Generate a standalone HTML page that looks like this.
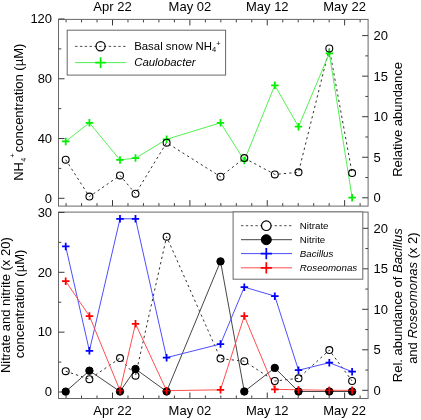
<!DOCTYPE html>
<html><head><meta charset="utf-8"><title>chart</title>
<style>
html,body{margin:0;padding:0;background:#fff;}
svg{display:block;will-change:transform;}
.it{font-style:italic;}
text{font-family:"Liberation Sans",sans-serif;font-size:13.0px;fill:#000;}
</style></head><body>
<svg width="421" height="420" viewBox="0 0 421 420">
<rect width="421" height="420" fill="#fff"/>
<line x1="66.07" y1="19.40" x2="66.07" y2="22.40" stroke="#404040" stroke-width="1" />
<line x1="66.07" y1="206.10" x2="66.07" y2="203.10" stroke="#404040" stroke-width="1" />
<line x1="81.55" y1="19.40" x2="81.55" y2="22.40" stroke="#404040" stroke-width="1" />
<line x1="81.55" y1="206.10" x2="81.55" y2="203.10" stroke="#404040" stroke-width="1" />
<line x1="97.02" y1="19.40" x2="97.02" y2="22.40" stroke="#404040" stroke-width="1" />
<line x1="97.02" y1="206.10" x2="97.02" y2="203.10" stroke="#404040" stroke-width="1" />
<line x1="112.50" y1="19.40" x2="112.50" y2="25.40" stroke="#3a3a3a" stroke-width="1" />
<line x1="112.50" y1="206.10" x2="112.50" y2="200.10" stroke="#3a3a3a" stroke-width="1" />
<line x1="127.98" y1="19.40" x2="127.98" y2="22.40" stroke="#404040" stroke-width="1" />
<line x1="127.98" y1="206.10" x2="127.98" y2="203.10" stroke="#404040" stroke-width="1" />
<line x1="143.45" y1="19.40" x2="143.45" y2="22.40" stroke="#404040" stroke-width="1" />
<line x1="143.45" y1="206.10" x2="143.45" y2="203.10" stroke="#404040" stroke-width="1" />
<line x1="158.93" y1="19.40" x2="158.93" y2="22.40" stroke="#404040" stroke-width="1" />
<line x1="158.93" y1="206.10" x2="158.93" y2="203.10" stroke="#404040" stroke-width="1" />
<line x1="174.40" y1="19.40" x2="174.40" y2="22.40" stroke="#404040" stroke-width="1" />
<line x1="174.40" y1="206.10" x2="174.40" y2="203.10" stroke="#404040" stroke-width="1" />
<line x1="189.88" y1="19.40" x2="189.88" y2="25.40" stroke="#3a3a3a" stroke-width="1" />
<line x1="189.88" y1="206.10" x2="189.88" y2="200.10" stroke="#3a3a3a" stroke-width="1" />
<line x1="205.36" y1="19.40" x2="205.36" y2="22.40" stroke="#404040" stroke-width="1" />
<line x1="205.36" y1="206.10" x2="205.36" y2="203.10" stroke="#404040" stroke-width="1" />
<line x1="220.83" y1="19.40" x2="220.83" y2="22.40" stroke="#404040" stroke-width="1" />
<line x1="220.83" y1="206.10" x2="220.83" y2="203.10" stroke="#404040" stroke-width="1" />
<line x1="236.31" y1="19.40" x2="236.31" y2="22.40" stroke="#404040" stroke-width="1" />
<line x1="236.31" y1="206.10" x2="236.31" y2="203.10" stroke="#404040" stroke-width="1" />
<line x1="251.78" y1="19.40" x2="251.78" y2="22.40" stroke="#404040" stroke-width="1" />
<line x1="251.78" y1="206.10" x2="251.78" y2="203.10" stroke="#404040" stroke-width="1" />
<line x1="267.26" y1="19.40" x2="267.26" y2="25.40" stroke="#3a3a3a" stroke-width="1" />
<line x1="267.26" y1="206.10" x2="267.26" y2="200.10" stroke="#3a3a3a" stroke-width="1" />
<line x1="282.74" y1="19.40" x2="282.74" y2="22.40" stroke="#404040" stroke-width="1" />
<line x1="282.74" y1="206.10" x2="282.74" y2="203.10" stroke="#404040" stroke-width="1" />
<line x1="298.21" y1="19.40" x2="298.21" y2="22.40" stroke="#404040" stroke-width="1" />
<line x1="298.21" y1="206.10" x2="298.21" y2="203.10" stroke="#404040" stroke-width="1" />
<line x1="313.69" y1="19.40" x2="313.69" y2="22.40" stroke="#404040" stroke-width="1" />
<line x1="313.69" y1="206.10" x2="313.69" y2="203.10" stroke="#404040" stroke-width="1" />
<line x1="329.16" y1="19.40" x2="329.16" y2="22.40" stroke="#404040" stroke-width="1" />
<line x1="329.16" y1="206.10" x2="329.16" y2="203.10" stroke="#404040" stroke-width="1" />
<line x1="344.64" y1="19.40" x2="344.64" y2="25.40" stroke="#3a3a3a" stroke-width="1" />
<line x1="344.64" y1="206.10" x2="344.64" y2="200.10" stroke="#3a3a3a" stroke-width="1" />
<line x1="360.12" y1="19.40" x2="360.12" y2="22.40" stroke="#404040" stroke-width="1" />
<line x1="360.12" y1="206.10" x2="360.12" y2="203.10" stroke="#404040" stroke-width="1" />
<line x1="66.07" y1="398.50" x2="66.07" y2="395.50" stroke="#404040" stroke-width="1" />
<line x1="81.55" y1="398.50" x2="81.55" y2="395.50" stroke="#404040" stroke-width="1" />
<line x1="97.02" y1="398.50" x2="97.02" y2="395.50" stroke="#404040" stroke-width="1" />
<line x1="112.50" y1="398.50" x2="112.50" y2="392.50" stroke="#3a3a3a" stroke-width="1" />
<line x1="127.98" y1="398.50" x2="127.98" y2="395.50" stroke="#404040" stroke-width="1" />
<line x1="143.45" y1="398.50" x2="143.45" y2="395.50" stroke="#404040" stroke-width="1" />
<line x1="158.93" y1="398.50" x2="158.93" y2="395.50" stroke="#404040" stroke-width="1" />
<line x1="174.40" y1="398.50" x2="174.40" y2="395.50" stroke="#404040" stroke-width="1" />
<line x1="189.88" y1="398.50" x2="189.88" y2="392.50" stroke="#3a3a3a" stroke-width="1" />
<line x1="205.36" y1="398.50" x2="205.36" y2="395.50" stroke="#404040" stroke-width="1" />
<line x1="220.83" y1="398.50" x2="220.83" y2="395.50" stroke="#404040" stroke-width="1" />
<line x1="236.31" y1="398.50" x2="236.31" y2="395.50" stroke="#404040" stroke-width="1" />
<line x1="251.78" y1="398.50" x2="251.78" y2="395.50" stroke="#404040" stroke-width="1" />
<line x1="267.26" y1="398.50" x2="267.26" y2="392.50" stroke="#3a3a3a" stroke-width="1" />
<line x1="282.74" y1="398.50" x2="282.74" y2="395.50" stroke="#404040" stroke-width="1" />
<line x1="298.21" y1="398.50" x2="298.21" y2="395.50" stroke="#404040" stroke-width="1" />
<line x1="313.69" y1="398.50" x2="313.69" y2="395.50" stroke="#404040" stroke-width="1" />
<line x1="329.16" y1="398.50" x2="329.16" y2="395.50" stroke="#404040" stroke-width="1" />
<line x1="344.64" y1="398.50" x2="344.64" y2="392.50" stroke="#3a3a3a" stroke-width="1" />
<line x1="360.12" y1="398.50" x2="360.12" y2="395.50" stroke="#404040" stroke-width="1" />
<rect x="58.5" y="19.4" width="309.60" height="186.70" fill="none" stroke="#686868" stroke-width="1"/>
<rect x="58.5" y="212.1" width="309.60" height="186.40" fill="none" stroke="#686868" stroke-width="1"/>
<line x1="58.50" y1="198.30" x2="64.50" y2="198.30" stroke="#3a3a3a" stroke-width="1" />
<text x="52.1" y="202.6" text-anchor="end">0</text>
<line x1="58.50" y1="168.42" x2="61.30" y2="168.42" stroke="#404040" stroke-width="1" />
<line x1="58.50" y1="138.53" x2="64.50" y2="138.53" stroke="#3a3a3a" stroke-width="1" />
<text x="52.1" y="142.8" text-anchor="end">40</text>
<line x1="58.50" y1="108.65" x2="61.30" y2="108.65" stroke="#404040" stroke-width="1" />
<line x1="58.50" y1="78.77" x2="64.50" y2="78.77" stroke="#3a3a3a" stroke-width="1" />
<text x="52.1" y="83.1" text-anchor="end">80</text>
<line x1="58.50" y1="48.88" x2="61.30" y2="48.88" stroke="#404040" stroke-width="1" />
<line x1="58.50" y1="19.00" x2="64.50" y2="19.00" stroke="#3a3a3a" stroke-width="1" />
<text x="52.1" y="23.3" text-anchor="end">120</text>
<line x1="368.10" y1="197.80" x2="362.10" y2="197.80" stroke="#3a3a3a" stroke-width="1" />
<text x="373.6" y="202.3">0</text>
<line x1="368.10" y1="177.53" x2="365.30" y2="177.53" stroke="#404040" stroke-width="1" />
<line x1="368.10" y1="157.25" x2="362.10" y2="157.25" stroke="#3a3a3a" stroke-width="1" />
<text x="373.6" y="161.8">5</text>
<line x1="368.10" y1="136.98" x2="365.30" y2="136.98" stroke="#404040" stroke-width="1" />
<line x1="368.10" y1="116.70" x2="362.10" y2="116.70" stroke="#3a3a3a" stroke-width="1" />
<text x="373.6" y="121.2">10</text>
<line x1="368.10" y1="96.43" x2="365.30" y2="96.43" stroke="#404040" stroke-width="1" />
<line x1="368.10" y1="76.15" x2="362.10" y2="76.15" stroke="#3a3a3a" stroke-width="1" />
<text x="373.6" y="80.7">15</text>
<line x1="368.10" y1="55.88" x2="365.30" y2="55.88" stroke="#404040" stroke-width="1" />
<line x1="368.10" y1="35.60" x2="362.10" y2="35.60" stroke="#3a3a3a" stroke-width="1" />
<text x="373.6" y="40.1">20</text>
<line x1="58.50" y1="392.00" x2="64.50" y2="392.00" stroke="#3a3a3a" stroke-width="1" />
<text x="52.1" y="396.3" text-anchor="end">0</text>
<line x1="58.50" y1="362.07" x2="61.30" y2="362.07" stroke="#404040" stroke-width="1" />
<line x1="58.50" y1="332.15" x2="64.50" y2="332.15" stroke="#3a3a3a" stroke-width="1" />
<text x="52.1" y="336.4" text-anchor="end">10</text>
<line x1="58.50" y1="302.23" x2="61.30" y2="302.23" stroke="#404040" stroke-width="1" />
<line x1="58.50" y1="272.30" x2="64.50" y2="272.30" stroke="#3a3a3a" stroke-width="1" />
<text x="52.1" y="276.6" text-anchor="end">20</text>
<line x1="58.50" y1="242.38" x2="61.30" y2="242.38" stroke="#404040" stroke-width="1" />
<line x1="58.50" y1="212.45" x2="64.50" y2="212.45" stroke="#3a3a3a" stroke-width="1" />
<text x="52.1" y="216.8" text-anchor="end">30</text>
<line x1="368.10" y1="390.30" x2="362.10" y2="390.30" stroke="#3a3a3a" stroke-width="1" />
<text x="373.6" y="394.8">0</text>
<line x1="368.10" y1="370.05" x2="365.30" y2="370.05" stroke="#404040" stroke-width="1" />
<line x1="368.10" y1="349.80" x2="362.10" y2="349.80" stroke="#3a3a3a" stroke-width="1" />
<text x="373.6" y="354.3">5</text>
<line x1="368.10" y1="329.55" x2="365.30" y2="329.55" stroke="#404040" stroke-width="1" />
<line x1="368.10" y1="309.30" x2="362.10" y2="309.30" stroke="#3a3a3a" stroke-width="1" />
<text x="373.6" y="313.8">10</text>
<line x1="368.10" y1="289.05" x2="365.30" y2="289.05" stroke="#404040" stroke-width="1" />
<line x1="368.10" y1="268.80" x2="362.10" y2="268.80" stroke="#3a3a3a" stroke-width="1" />
<text x="373.6" y="273.3">15</text>
<line x1="368.10" y1="248.55" x2="365.30" y2="248.55" stroke="#404040" stroke-width="1" />
<line x1="368.10" y1="228.30" x2="362.10" y2="228.30" stroke="#3a3a3a" stroke-width="1" />
<text x="373.6" y="232.8">20</text>
<text x="112.5" y="10.9" text-anchor="middle">Apr 22</text>
<text x="112.5" y="415.4" text-anchor="middle">Apr 22</text>
<text x="189.9" y="10.9" text-anchor="middle">May 02</text>
<text x="189.9" y="415.4" text-anchor="middle">May 02</text>
<text x="267.3" y="10.9" text-anchor="middle">May 12</text>
<text x="267.3" y="415.4" text-anchor="middle">May 12</text>
<text x="344.6" y="10.9" text-anchor="middle">May 22</text>
<text x="344.6" y="415.4" text-anchor="middle">May 22</text>
<polyline points="65.7,159.7 89.4,196.6 120.0,175.4 135.5,193.7 166.6,142.7 220.5,176.7 244.3,158.1 274.8,174.4 298.5,172.3 329.3,48.5 352.1,173.1" fill="none" stroke="#303030" stroke-width="1" stroke-dasharray="2.3 3.1"/>
<polyline points="65.7,141.4 89.4,122.8 120.0,159.9 135.5,158.1 166.6,139.3 220.5,122.8 244.3,160.5 274.8,85.3 298.5,126.7 329.3,53.4 352.1,197.7" fill="none" stroke="#48f048" stroke-width="0.95" />
<path d="M62.0 141.4H69.5M65.7 137.7V145.2" stroke="#00f000" stroke-width="1.75" fill="none"/>
<path d="M85.7 122.8H93.2M89.4 119.0V126.5" stroke="#00f000" stroke-width="1.75" fill="none"/>
<path d="M116.2 159.9H123.8M120.0 156.2V163.7" stroke="#00f000" stroke-width="1.75" fill="none"/>
<path d="M131.8 158.1H139.2M135.5 154.3V161.8" stroke="#00f000" stroke-width="1.75" fill="none"/>
<path d="M162.8 139.3H170.3M166.6 135.6V143.1" stroke="#00f000" stroke-width="1.75" fill="none"/>
<path d="M216.8 122.8H224.2M220.5 119.0V126.5" stroke="#00f000" stroke-width="1.75" fill="none"/>
<path d="M240.6 160.5H248.1M244.3 156.8V164.2" stroke="#00f000" stroke-width="1.75" fill="none"/>
<path d="M271.1 85.3H278.6M274.8 81.5V89.0" stroke="#00f000" stroke-width="1.75" fill="none"/>
<path d="M294.8 126.7H302.2M298.5 123.0V130.4" stroke="#00f000" stroke-width="1.75" fill="none"/>
<path d="M325.6 53.4H333.1M329.3 49.6V57.1" stroke="#00f000" stroke-width="1.75" fill="none"/>
<path d="M348.4 197.7H355.9M352.1 193.9V201.4" stroke="#00f000" stroke-width="1.75" fill="none"/>
<circle cx="65.7" cy="159.7" r="3.45" fill="none" stroke="#000" stroke-width="1.1"/>
<circle cx="89.4" cy="196.6" r="3.45" fill="none" stroke="#000" stroke-width="1.1"/>
<circle cx="120.0" cy="175.4" r="3.45" fill="none" stroke="#000" stroke-width="1.1"/>
<circle cx="135.5" cy="193.7" r="3.45" fill="none" stroke="#000" stroke-width="1.1"/>
<circle cx="166.6" cy="142.7" r="3.45" fill="none" stroke="#000" stroke-width="1.1"/>
<circle cx="220.5" cy="176.7" r="3.45" fill="none" stroke="#000" stroke-width="1.1"/>
<circle cx="244.3" cy="158.1" r="3.45" fill="none" stroke="#000" stroke-width="1.1"/>
<circle cx="274.8" cy="174.4" r="3.45" fill="none" stroke="#000" stroke-width="1.1"/>
<circle cx="298.5" cy="172.3" r="3.45" fill="none" stroke="#000" stroke-width="1.1"/>
<circle cx="329.3" cy="48.5" r="3.45" fill="none" stroke="#000" stroke-width="1.1"/>
<circle cx="352.1" cy="173.1" r="3.45" fill="none" stroke="#000" stroke-width="1.1"/>
<polyline points="65.7,371.2 89.4,379.2 120.0,358.1 135.5,375.7 166.6,236.7 220.5,358.6 244.3,361.2 274.8,381.0 298.5,378.3 329.3,350.1 352.1,381.0" fill="none" stroke="#303030" stroke-width="1" stroke-dasharray="2.3 3.1"/>
<polyline points="65.7,391.6 89.4,370.7 120.0,391.5 135.5,369.0 166.6,391.5 220.5,261.4 244.3,391.5 274.8,367.9 298.5,391.5 329.3,391.5 352.1,391.5" fill="none" stroke="#3c3c3c" stroke-width="0.95" />
<polyline points="65.7,246.4 89.4,350.8 120.0,218.8 135.5,218.8 166.6,357.6 220.5,344.0 244.3,287.1 274.8,296.1 298.5,370.2 329.3,362.7 352.1,371.7" fill="none" stroke="#4444ff" stroke-width="0.95" />
<polyline points="65.7,281.2 89.4,316.0 120.0,390.5 135.5,323.8 166.6,390.7 220.5,389.8 244.3,316.0 274.8,389.3 298.5,389.8 329.3,390.3 352.1,390.3" fill="none" stroke="#ff4444" stroke-width="0.95" />
<circle cx="65.7" cy="371.2" r="3.45" fill="none" stroke="#000" stroke-width="1.1"/>
<circle cx="89.4" cy="379.2" r="3.45" fill="none" stroke="#000" stroke-width="1.1"/>
<circle cx="120.0" cy="358.1" r="3.45" fill="none" stroke="#000" stroke-width="1.1"/>
<circle cx="135.5" cy="375.7" r="3.45" fill="none" stroke="#000" stroke-width="1.1"/>
<circle cx="166.6" cy="236.7" r="3.45" fill="none" stroke="#000" stroke-width="1.1"/>
<circle cx="220.5" cy="358.6" r="3.45" fill="none" stroke="#000" stroke-width="1.1"/>
<circle cx="244.3" cy="361.2" r="3.45" fill="none" stroke="#000" stroke-width="1.1"/>
<circle cx="274.8" cy="381.0" r="3.45" fill="none" stroke="#000" stroke-width="1.1"/>
<circle cx="298.5" cy="378.3" r="3.45" fill="none" stroke="#000" stroke-width="1.1"/>
<circle cx="329.3" cy="350.1" r="3.45" fill="none" stroke="#000" stroke-width="1.1"/>
<circle cx="352.1" cy="381.0" r="3.45" fill="none" stroke="#000" stroke-width="1.1"/>
<circle cx="65.7" cy="391.6" r="3.7" fill="#000" stroke="#000" stroke-width="1"/>
<circle cx="89.4" cy="370.7" r="3.7" fill="#000" stroke="#000" stroke-width="1"/>
<circle cx="120.0" cy="391.5" r="3.7" fill="#000" stroke="#000" stroke-width="1"/>
<circle cx="135.5" cy="369.0" r="3.7" fill="#000" stroke="#000" stroke-width="1"/>
<circle cx="166.6" cy="391.5" r="3.7" fill="#000" stroke="#000" stroke-width="1"/>
<circle cx="220.5" cy="261.4" r="3.7" fill="#000" stroke="#000" stroke-width="1"/>
<circle cx="244.3" cy="391.5" r="3.7" fill="#000" stroke="#000" stroke-width="1"/>
<circle cx="274.8" cy="367.9" r="3.7" fill="#000" stroke="#000" stroke-width="1"/>
<circle cx="298.5" cy="391.5" r="3.7" fill="#000" stroke="#000" stroke-width="1"/>
<circle cx="329.3" cy="391.5" r="3.7" fill="#000" stroke="#000" stroke-width="1"/>
<circle cx="352.1" cy="391.5" r="3.7" fill="#000" stroke="#000" stroke-width="1"/>
<path d="M62.0 246.4H69.5M65.7 242.7V250.2" stroke="#0000ff" stroke-width="1.75" fill="none"/>
<path d="M85.7 350.8H93.2M89.4 347.1V354.6" stroke="#0000ff" stroke-width="1.75" fill="none"/>
<path d="M116.2 218.8H123.8M120.0 215.1V222.6" stroke="#0000ff" stroke-width="1.75" fill="none"/>
<path d="M131.8 218.8H139.2M135.5 215.1V222.6" stroke="#0000ff" stroke-width="1.75" fill="none"/>
<path d="M162.8 357.6H170.3M166.6 353.9V361.4" stroke="#0000ff" stroke-width="1.75" fill="none"/>
<path d="M216.8 344.0H224.2M220.5 340.2V347.8" stroke="#0000ff" stroke-width="1.75" fill="none"/>
<path d="M240.6 287.1H248.1M244.3 283.4V290.9" stroke="#0000ff" stroke-width="1.75" fill="none"/>
<path d="M271.1 296.1H278.6M274.8 292.4V299.9" stroke="#0000ff" stroke-width="1.75" fill="none"/>
<path d="M294.8 370.2H302.2M298.5 366.4V373.9" stroke="#0000ff" stroke-width="1.75" fill="none"/>
<path d="M325.6 362.7H333.1M329.3 358.9V366.4" stroke="#0000ff" stroke-width="1.75" fill="none"/>
<path d="M348.4 371.7H355.9M352.1 367.9V375.4" stroke="#0000ff" stroke-width="1.75" fill="none"/>
<path d="M62.0 281.2H69.5M65.7 277.4V284.9" stroke="#ff0000" stroke-width="1.75" fill="none"/>
<path d="M85.7 316.0H93.2M89.4 312.2V319.8" stroke="#ff0000" stroke-width="1.75" fill="none"/>
<path d="M116.2 390.5H123.8" stroke="#a80000" stroke-width="1.5" fill="none"/>
<path d="M120.0 386.8V394.2" stroke="#ff0000" stroke-width="1.75" fill="none"/>
<path d="M131.8 323.8H139.2M135.5 320.1V327.6" stroke="#ff0000" stroke-width="1.75" fill="none"/>
<path d="M162.8 390.7H170.3" stroke="#a80000" stroke-width="1.5" fill="none"/>
<path d="M166.6 386.9V394.4" stroke="#ff0000" stroke-width="1.75" fill="none"/>
<path d="M216.8 389.8H224.2M220.5 386.1V393.6" stroke="#ff0000" stroke-width="1.75" fill="none"/>
<path d="M240.6 316.0H248.1M244.3 312.2V319.8" stroke="#ff0000" stroke-width="1.75" fill="none"/>
<path d="M271.1 389.3H278.6M274.8 385.6V393.1" stroke="#ff0000" stroke-width="1.75" fill="none"/>
<path d="M294.8 389.8H302.2" stroke="#a80000" stroke-width="1.5" fill="none"/>
<path d="M298.5 386.1V393.6" stroke="#ff0000" stroke-width="1.75" fill="none"/>
<path d="M325.6 390.3H333.1" stroke="#a80000" stroke-width="1.5" fill="none"/>
<path d="M329.3 386.6V394.1" stroke="#ff0000" stroke-width="1.75" fill="none"/>
<path d="M348.4 390.3H355.9" stroke="#a80000" stroke-width="1.5" fill="none"/>
<path d="M352.1 386.6V394.1" stroke="#ff0000" stroke-width="1.75" fill="none"/>
<rect x="67.2" y="30.2" width="158.4" height="44.9" fill="#fff" stroke="#686868" stroke-width="1"/>
<line x1="75.10" y1="46.40" x2="125.90" y2="46.40" stroke="#3a3a3a" stroke-width="0.9" stroke-dasharray="2.4 2.4"/>
<circle cx="100.6" cy="46.3" r="4.6" fill="none" stroke="#000" stroke-width="1.2"/>
<line x1="75.10" y1="62.60" x2="125.90" y2="62.60" stroke="#48f048" stroke-width="0.95" />
<path d="M95.3 62.6H105.9M100.6 57.3V67.9" stroke="#00f000" stroke-width="1.6" fill="none"/>
<text x="134.2" y="49.6" style="font-size:11.4px">Basal snow NH<tspan style="font-size:7.5px" dy="2.5">4</tspan><tspan style="font-size:7.5px" dy="-6">+</tspan></text>
<text x="134.2" y="66.1" style="font-size:11.4px" class="it">Caulobacter</text>
<rect x="233.1" y="211.9" width="129.7" height="67.3" fill="#fff" stroke="#686868" stroke-width="1"/>
<line x1="241.00" y1="225.70" x2="292.00" y2="225.70" stroke="#3a3a3a" stroke-width="0.9" stroke-dasharray="2.4 2.4"/>
<circle cx="266.3" cy="225.7" r="4.8" fill="#fff" stroke="#000" stroke-width="1.2"/>
<line x1="241.00" y1="239.70" x2="292.00" y2="239.70" stroke="#444" stroke-width="1" />
<circle cx="266.3" cy="239.7" r="5.0" fill="#000" stroke="#000" stroke-width="1"/>
<line x1="241.00" y1="253.60" x2="292.00" y2="253.60" stroke="#4444ff" stroke-width="0.95" />
<path d="M260.7 253.6H271.9M266.3 248.0V259.2" stroke="#0000ff" stroke-width="1.7" fill="none"/>
<line x1="241.00" y1="267.80" x2="292.00" y2="267.80" stroke="#ff4444" stroke-width="0.95" />
<path d="M260.7 267.8H271.9M266.3 262.2V273.4" stroke="#ff0000" stroke-width="1.7" fill="none"/>
<text x="299.8" y="229.3" style="font-size:9.75px">Nitrate</text>
<text x="299.8" y="243.3" style="font-size:9.75px">Nitrite</text>
<text x="299.8" y="257.2" style="font-size:9.75px" class="it">Bacillus</text>
<text x="299.8" y="271.4" style="font-size:9.75px" class="it">Roseomonas</text>
<text transform="translate(23.0,180.8) rotate(-90)">NH<tspan style="font-size:7.2px" dy="2.7" dx="0.2">4</tspan><tspan style="font-size:7.2px" dy="-10.9" dx="0.3">+</tspan><tspan dy="8.2" dx="1.0">concentration (µM)</tspan></text>
<text transform="translate(398.0,119.4) rotate(-90)" text-anchor="middle" x="0" y="4">Relative abundance</text>
<text transform="translate(9.7,305.2) rotate(-90)" text-anchor="middle">Nitrate and nitrite (x 20)</text>
<text transform="translate(24.2,304) rotate(-90)" text-anchor="middle">concentration (µM)</text>
<text transform="translate(402.0,305.2) rotate(-90)" text-anchor="middle">Rel. abundance of <tspan class="it">Bacillus</tspan></text>
<text transform="translate(416.8,298.1) rotate(-90)" text-anchor="middle">and <tspan class="it">Roseomonas</tspan> (x 2)</text>
</svg>
</body></html>
